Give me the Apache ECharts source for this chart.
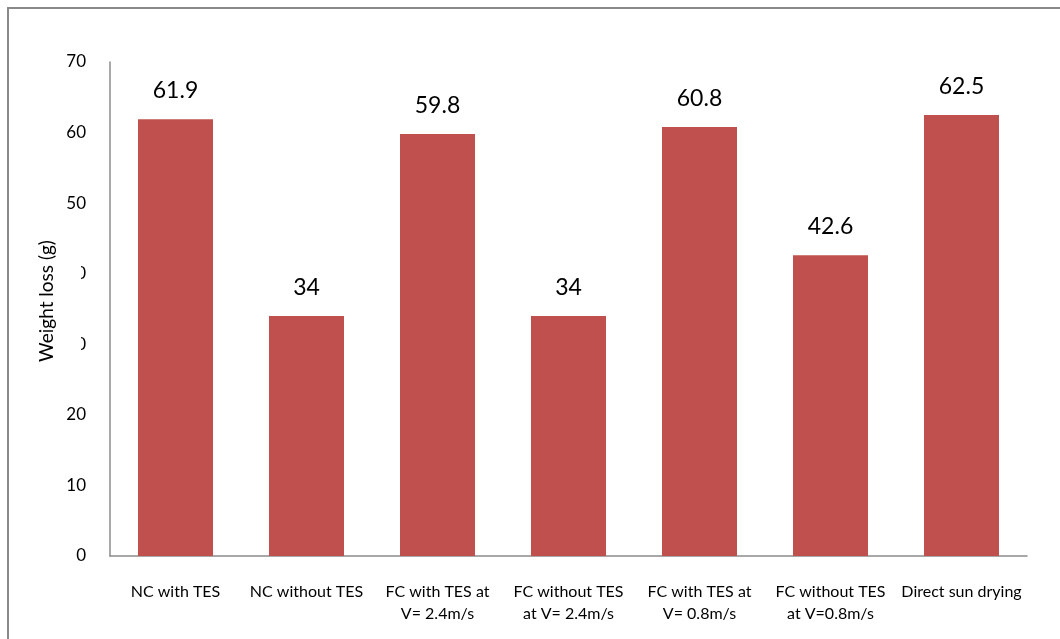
<!DOCTYPE html>
<html>
<head>
<meta charset="utf-8">
<script src="https://cdn.jsdelivr.net/npm/echarts@6/dist/echarts.min.js"></script>
<style>
  html, body { margin: 0; padding: 0; background: #fff; }
  #chart { width: 1060px; height: 639px; }
</style>
</head>
<body>
<div id="chart"></div>
<script>
// Drying methods compared by total weight loss
const categories = [
  'NC with TES',
  'NC without TES',
  'FC with TES at\nV= 2.4m/s',
  'FC without TES\nat V= 2.4m/s',
  'FC with TES at\nV= 0.8m/s',
  'FC without TES\nat V=0.8m/s',
  'Direct sun drying'
];
const weightLoss = [61.9, 34, 59.8, 34, 60.8, 42.6, 62.5];
const yTicks = { min: 0, max: 70, interval: 10 };
const yTitle = 'Weight loss (g)';

const font = 'Lato, "Open Sans", sans-serif';
const chart = echarts.init(document.getElementById('chart'), null, { renderer: 'canvas' });

chart.setOption({
  animation: false,
  backgroundColor: '#fff',
  grid: { left: 110, top: 62, right: 33, bottom: 83, containLabel: false },
  graphic: [
    {
      // outer frame
      type: 'rect',
      shape: { x: 8, y: 8, width: 1200, height: 800 },
      style: { fill: 'none', stroke: '#898989', lineWidth: 2 },
      silent: true,
      z: -1
    },
    {
      // white box behind the y title, drawn over the tick labels it overlaps
      type: 'rect',
      shape: { x: 35, y: 236, width: 46, height: 130 },
      style: { fill: '#fff' },
      silent: true,
      z: 50
    },
    {
      type: 'text',
      x: 47,
      y: 301,
      rotation: Math.PI / 2,
      style: {
        text: yTitle,
        fill: '#000',
        font: '19px ' + font,
        textAlign: 'center',
        textVerticalAlign: 'middle'
      },
      silent: true,
      z: 51
    }
  ],
  xAxis: {
    type: 'category',
    data: categories,
    axisLine: { show: true, lineStyle: { color: '#8c8c8c', width: 1.5 } },
    axisTick: { show: false },
    axisLabel: {
      interval: 0,
      margin: 25,
      color: '#000',
      fontFamily: font,
      fontSize: 16,
      lineHeight: 22
    }
  },
  yAxis: {
    type: 'value',
    min: yTicks.min,
    max: yTicks.max,
    interval: yTicks.interval,
    splitLine: { show: false },
    axisLine: { show: true, lineStyle: { color: '#8c8c8c', width: 1.5 } },
    axisTick: { show: false },
    axisLabel: {
      margin: 24,
      color: '#000',
      fontFamily: font,
      fontSize: 17
    }
  },
  series: [{
    type: 'bar',
    data: weightLoss,
    barWidth: 75,
    itemStyle: { color: '#C0504D' },
    label: {
      show: true,
      position: 'top',
      distance: 17,
      color: '#000',
      fontFamily: font,
      fontSize: 23
    }
  }]
});
</script>
</body>
</html>
